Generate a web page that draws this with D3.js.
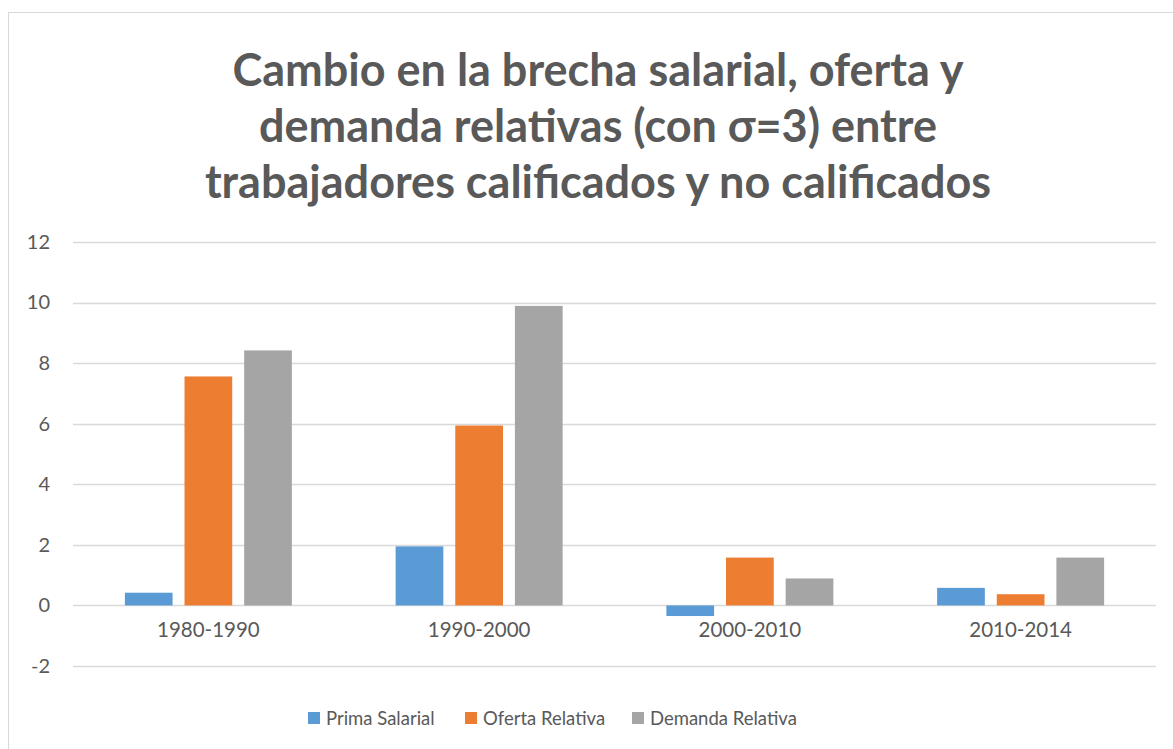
<!DOCTYPE html>
<html>
<head>
<meta charset="utf-8">
<script src="https://cdn.jsdelivr.net/npm/d3@7"></script>
<style>
  body { margin: 0; background: #fff; }
  text { font-family: Lato, "Open Sans", sans-serif; }
</style>
</head>
<body>
<div id="chart"></div>
<script>
'use strict';

// data
var periods = ['1980-1990', '1990-2000', '2000-2010', '2010-2014'];
var seriesNames = ['Prima Salarial', 'Oferta Relativa', 'Demanda Relativa'];
var primaSalarial = [0.42, 1.95, -0.35, 0.58];
var ofertaRelativa = [7.56, 5.94, 1.58, 0.37];
var demandaRelativa = [8.42, 9.89, 0.89, 1.58];
var yTicks = [-2, 0, 2, 4, 6, 8, 10, 12];
var titleLines = [
  'Cambio en la brecha salarial, oferta y',
  'demanda relativas (con \u03c3=3) entre',
  'trabajadores calificados y no calificados'
];

var colors = ['#5b9bd5', '#ed7d31', '#a5a5a5'];
var allSeries = [primaSalarial, ofertaRelativa, demandaRelativa];

var width = 1173, height = 749;
var svg = d3.select('#chart').append('svg')
  .attr('width', width)
  .attr('height', height);

// chart border
svg.append('rect')
  .attr('x', 8.5)
  .attr('y', 12.5)
  .attr('width', 1180)
  .attr('height', 760)
  .attr('fill', '#fff')
  .attr('stroke', '#d9d9d9')
  .attr('stroke-width', 1);

// title
svg.append('g').selectAll('text')
  .data(titleLines)
  .enter().append('text')
    .attr('x', 598)
    .attr('y', function(d, i){ return 86 + i * 56; })
    .attr('text-anchor', 'middle')
    .attr('font-size', 45)
    .attr('font-weight', 'bold')
    .attr('fill', '#595959')
    .text(function(d){ return d; });

var plotLeft = 73, plotRight = 1156;

var y = d3.scaleLinear()
  .domain([-2, 12])
  .range([666, 242]);

var x0 = d3.scaleBand()
  .domain(periods)
  .range([plotLeft, plotRight]);

var x1 = d3.scaleBand()
  .domain(seriesNames)
  .range([0, 167])
  .paddingInner(0.2);

// gridlines
svg.append('g').selectAll('line')
  .data(yTicks)
  .enter().append('line')
    .attr('x1', plotLeft)
    .attr('x2', plotRight)
    .attr('y1', function(d){ return Math.round(y(d)) + 0.5; })
    .attr('y2', function(d){ return Math.round(y(d)) + 0.5; })
    .attr('stroke', '#d9d9d9')
    .attr('stroke-width', 1.5);

// y axis labels
var yAxis = d3.axisLeft(y)
  .tickValues(yTicks)
  .tickSize(0)
  .tickPadding(0)
  .tickFormat(function(d){ return String(d); });

var gy = svg.append('g')
  .attr('transform', 'translate(50,0)')
  .call(yAxis);
gy.select('.domain').remove();
gy.selectAll('text')
  .attr('font-size', 20)
  .attr('fill', '#595959')
  .style('font-family', 'Lato, sans-serif');

// bars
var groups = svg.append('g').selectAll('g')
  .data(periods)
  .enter().append('g')
    .attr('transform', function(d){
      return 'translate(' + (x0(d) + x0.bandwidth() / 2 - 83.5) + ',0)';
    });

groups.selectAll('rect')
  .data(function(d, i){
    return seriesNames.map(function(s, j){ return {name: s, value: allSeries[j][i], idx: j}; });
  })
  .enter().append('rect')
    .attr('x', function(d){ return x1(d.name); })
    .attr('width', x1.bandwidth())
    .attr('y', function(d){ return y(Math.max(0, d.value)); })
    .attr('height', function(d){ return Math.abs(y(d.value) - y(0)); })
    .attr('fill', function(d){ return colors[d.idx]; });

// category labels
var xAxis = d3.axisBottom(x0).tickSize(0).tickPadding(0);
var gx = svg.append('g')
  .attr('transform', 'translate(0,622)')
  .call(xAxis);
gx.select('.domain').remove();
gx.selectAll('text')
  .attr('font-size', 20.5)
  .attr('fill', '#595959')
  .style('font-family', 'Lato, sans-serif');

// legend
var legendX = [308, 465, 632];
var legend = svg.append('g').selectAll('g')
  .data(seriesNames)
  .enter().append('g')
    .attr('transform', function(d, i){ return 'translate(' + legendX[i] + ',712)'; });

legend.append('rect')
  .attr('width', 12)
  .attr('height', 12)
  .attr('fill', function(d, i){ return colors[i]; });

legend.append('text')
  .attr('x', 18)
  .attr('y', 12.5)
  .attr('font-size', 18.5)
  .attr('fill', '#595959')
  .text(function(d){ return d; });
</script>
</body>
</html>
